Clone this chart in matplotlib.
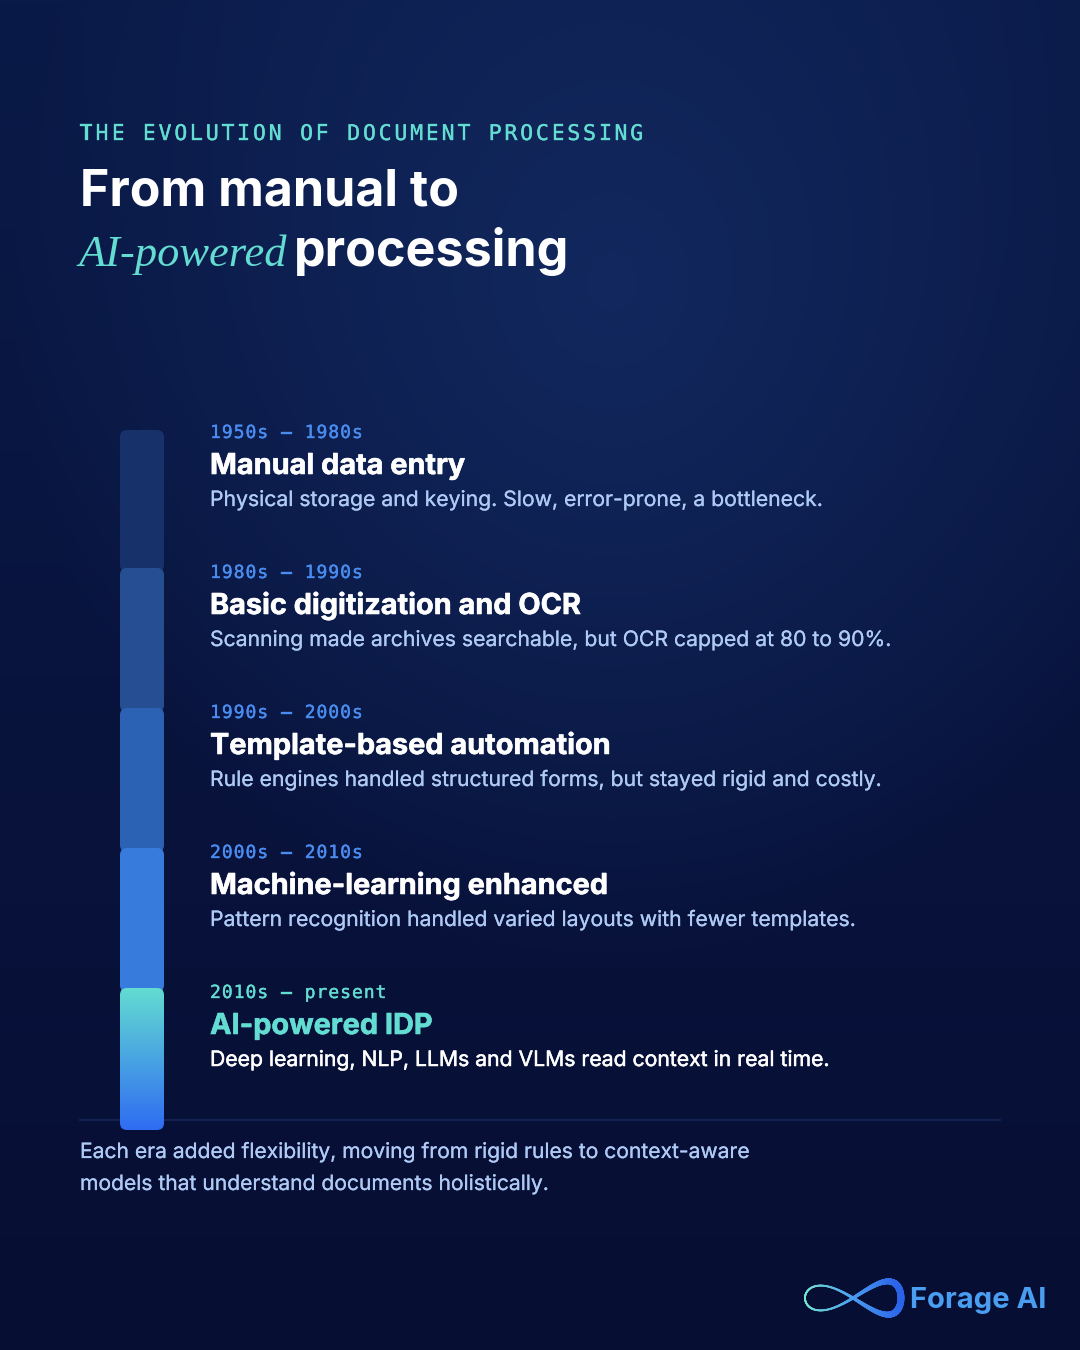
import numpy as np
import matplotlib
matplotlib.use("Agg")
import matplotlib.pyplot as plt
import matplotlib.patheffects as pe
from matplotlib.collections import LineCollection
from matplotlib.colors import to_rgb, LinearSegmentedColormap
from matplotlib.patches import FancyBboxPatch

# chart content
eyebrow = "THE EVOLUTION OF DOCUMENT PROCESSING"
periods = ["1950s — 1980s", "1980s — 1990s", "1990s — 2000s", "2000s — 2010s", "2010s — present"]
stages = ["Manual data entry", "Basic digitization and OCR", "Template-based automation",
          "Machine-learning enhanced", "AI-powered IDP"]
notes = ["Physical storage and keying. Slow, error-prone, a bottleneck.",
         "Scanning made archives searchable, but OCR capped at 80 to 90%.",
         "Rule engines handled structured forms, but stayed rigid and costly.",
         "Pattern recognition handled varied layouts with fewer templates.",
         "Deep learning, NLP, LLMs and VLMs read context in real time."]
footer = ["Each era added flexibility, moving from rigid rules to context-aware",
          "models that understand documents holistically."]
bar_colors = ["#17326a", "#264f93", "#2c62b4", "#377bdc"]

TEAL = "#63dcd2"
BLUE = "#4a8cf0"
PALE = "#aecaf5"

fig = plt.figure(figsize=(10.8, 13.5), dpi=100)
ax = fig.add_axes([0, 0, 1, 1])
ax.set_xlim(0, 1080)
ax.set_ylim(1350, 0)
ax.axis("off")


# Function used for the dark page background with the soft glow at the top
def draw_background():
    ys, xs = np.mgrid[0:1350:4, 0:1080:4]
    top = np.array(to_rgb("#0a1a48"))
    bottom = np.array(to_rgb("#070e33"))
    glow = np.array(to_rgb("#12285e"))
    t = (ys / 1350.0)[..., None]
    base = top * (1 - t) + bottom * t
    r = np.sqrt(((xs - 610) / 600.0) ** 2 + ((ys - 280) / 680.0) ** 2)
    g = np.clip(1 - r, 0, 1)[..., None] ** 0.9
    img = base * (1 - g) + glow * g
    ax.imshow(img, extent=(0, 1080, 1350, 0), aspect="auto", zorder=0)
    ax.set_xlim(0, 1080)
    ax.set_ylim(1350, 0)


def rounded_bar(y0, y1, color=None, z=2):
    patch = FancyBboxPatch((120, y0), 44, y1 - y0, boxstyle="round,pad=0,rounding_size=7",
                           fc=color if color else "none", ec="none", zorder=z)
    ax.add_patch(patch)
    return patch


# Thin outline in the text's own colour, the fonts here are a bit lighter than the original
def thicken(t, color, amount):
    t.set_path_effects([pe.withStroke(linewidth=amount, foreground=color)])
    return t


# Mono text with wider letter spacing, one character at a time
def spaced_text(x, y, text, step, color, **kw):
    for i, ch in enumerate(text):
        t = ax.text(x + i * step, y, ch, family="DejaVu Sans Mono", va="baseline", ha="left", color=color, **kw)
        thicken(t, color, 0.25)


draw_background()

row_step = 140
first_top = 430
ax.plot([80, 1000], [1120, 1120], color="#17265a", lw=1.2, zorder=1)

spaced_text(80, 140, eyebrow, 15.72, TEAL, fontsize=15.5)

ax.text(80, 206, "From manual to", family="Inter", weight="bold", fontsize=36.1, color="white", va="baseline")
ax.text(78, 266, "AI-powered", family="Liberation Serif", style="italic", fontsize=32, color=TEAL, va="baseline")
ax.text(294, 266, "processing", family="Inter", weight="bold", fontsize=36.2, color="white", va="baseline")

for i in range(len(stages)):
    top = first_top + i * row_step
    last = i == len(stages) - 1

    if last:
        cmap = LinearSegmentedColormap.from_list("bar", [TEAL, "#2f6cf2"])
        patch = rounded_bar(top - 2, top + 140, z=2 + i)
        grad = np.linspace(0, 1, 200)[:, None]
        im = ax.imshow(grad, cmap=cmap, extent=(120, 164, top + 140, top - 2), aspect="auto", zorder=2 + i)
        im.set_clip_path(patch)
        ax.set_xlim(0, 1080)
        ax.set_ylim(1350, 0)
    else:
        rounded_bar(top - (2 if i else 0), top + 142, bar_colors[i], z=2 + i)

    spaced_text(210, top + 8, periods[i], 11.83, TEAL if last else BLUE, fontsize=13)

    title_color = TEAL if last else "white"
    t = ax.text(210, top + 44, stages[i], family="Inter", weight="bold", fontsize=20.8,
                color=title_color, va="baseline")
    thicken(t, title_color, 0.4)

    note_color = "white" if last else PALE
    t = ax.text(210, top + 76, notes[i], family="Inter", fontsize=15.25, color=note_color, va="baseline")
    thicken(t, note_color, 0.35 if last else 0.15)

for j in range(len(footer)):
    t = ax.text(80, 1158 + j * 32, footer[j], family="Inter", fontsize=15.16, color=PALE, va="baseline")
    thicken(t, PALE, 0.15)

# Logo mark drawn as a figure-eight ribbon that fattens towards the right
s = np.linspace(0, 2 * np.pi, 500)
lx = 853 + 48 * np.sin(s)
ly = 1298 - (14.5 + 3 * np.sin(s)) * np.sin(2 * s)
widths = 1.3 + 3.6 * np.clip((lx - 825) / 72, 0, 1) ** 1.5
pts = np.column_stack([lx, ly])
segs = np.stack([pts[:-1], pts[1:]], axis=1)
logo_cmap = LinearSegmentedColormap.from_list("logo", ["#74e6d2", "#4a9cf0", "#2a62e8"])
lc = LineCollection(segs, array=(lx[:-1] - 805) / 97, cmap=logo_cmap, linewidths=widths[:-1],
                    capstyle="round", zorder=3)
ax.add_collection(lc)
ax.text(910, 1308, "Forage AI", family="Inter", weight="bold", fontsize=21, color="#4a9ef2", va="baseline")

fig.savefig("out.png", dpi=100)
